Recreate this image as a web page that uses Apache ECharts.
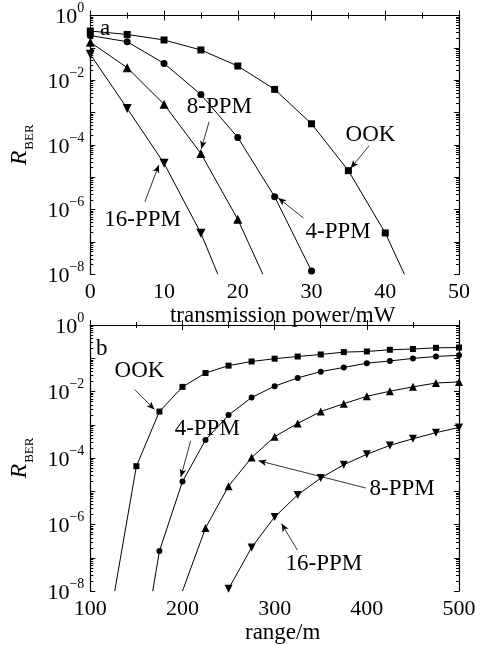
<!DOCTYPE html>
<html>
<head>
<meta charset="utf-8">
<script src="https://cdn.jsdelivr.net/npm/echarts@6/dist/echarts.min.js"></script>
<style>
  html, body { margin: 0; padding: 0; background: #fff; }
  #chart { width: 484px; height: 645px; }
</style>
</head>
<body>
<div id="chart"></div>
<script>
// (a) BER vs transmission power
var powerMw = [0, 5, 10, 15, 20, 25, 30, 35, 40]
var ookPower = [0.33, 0.26, 0.175, 0.086, 0.0275, 5.2e-3, 4.5e-4, 1.6e-5, 1.9e-7]
var ppm4Power = [0.24, 0.155, 0.033, 3.6e-3, 1.7e-4, 2.5e-6, 1.26e-8]
var ppm8Power = [0.149, 0.0244, 1.8e-3, 5.4e-5, 5e-7]
var ppm16Power = [0.063, 1.34e-3, 2.7e-5, 1.85e-7]
// where the curves leave the plot at the bottom
var ookPowerEnd = [42.6, 1e-8]
var ppm8PowerEnd = [23.4, 1e-8]
var ppm16PowerEnd = [17.3, 1e-8]

// (b) BER vs range
var rangeM = [150, 175, 200, 225, 250, 275, 300, 325, 350, 375, 400, 425, 450, 475, 500]
var ookRange = [5.7e-5, 2.5e-3, 0.0138, 0.036, 0.06, 0.08, 0.097, 0.113, 0.13, 0.153, 0.16, 0.18, 0.19, 0.206, 0.21]
var ppm4Range = [1.6e-7, 1.96e-5, 3.5e-4, 1.96e-3, 6.6e-3, 0.0145, 0.0257, 0.0396, 0.053, 0.071, 0.083, 0.099, 0.113, 0.123]
var ppm8Range = [7.9e-7, 1.43e-5, 1.03e-4, 4.4e-4, 1.1e-3, 2.5e-3, 4.3e-3, 7.2e-3, 0.0102, 0.0138, 0.018, 0.0195]
var ppm16Range = [1.17e-8, 2.05e-7, 1.7e-6, 7.8e-6, 2.5e-5, 6.3e-5, 1.3e-4, 2.4e-4, 3.8e-4, 5.8e-4, 8.3e-4]
// where the curves enter the plot from the bottom
var ookRangeStart = [126.5, 1e-8]
var ppm4RangeStart = [167.7, 1e-8]
var ppm8RangeStart = [200, 1e-8]

var FONT = 'Liberation Serif'

// annotations: text position, arrow tail, arrow head (data coords)
var notesA = [
  { text: '8-PPM', at: [17.5, -2.83], from: [16.1, -3.29], to: [15.05, -4.12] },
  { text: 'OOK', at: [38.0, -3.69], from: [37.8, -4.03], to: [35.3, -4.72] },
  { text: '16-PPM', at: [7.1, -6.32], from: [7.4, -5.76], to: [9.3, -4.62] },
  { text: '4-PPM', at: [33.6, -6.68], from: [28.9, -6.26], to: [25.5, -5.64] }
]
var notesB = [
  { text: 'OOK', at: [153.4, -1.39], from: [148.1, -1.94], to: [169.6, -2.54] },
  { text: '4-PPM', at: [226.9, -3.13], from: [208.9, -3.48], to: [198.2, -4.57] },
  { text: '8-PPM', at: [438.4, -4.93], from: [398.9, -4.9], to: [282.5, -4.08] },
  { text: '16-PPM', at: [353.4, -7.19], from: [324.7, -6.77], to: [307.5, -5.97] }
]

// log minor ticks 2..9 x 10^k
var minorLog = []
for (var k = -8; k < 0; k++) {
  for (var m = 2; m <= 9; m++) minorLog.push(k + Math.log10(m))
}

function pairs(xs, ys) {
  return xs.slice(0, ys.length).map(function(x, i) { return [x, ys[i]] })
}
function bare(p) {
  return { value: p, symbol: 'none' }
}

function yLabel(v) {
  var e = Math.round(Math.log10(v))
  if (e % 2 !== 0) return ''
  return '{b|10}{s|' + (e === 0 ? '0' : '\u2212' + (-e)) + '}'
}

function xAxes(g, min, max, step, name, gap) {
  return [{
    type: 'value', gridIndex: g, min: min, max: max, interval: step,
    name: name, nameLocation: 'middle', nameGap: gap,
    nameTextStyle: { fontFamily: FONT, fontSize: 23, color: '#000', padding: [0, 0, 0, 16] },
    axisLine: { lineStyle: { color: '#000', width: 1.2 } },
    axisTick: { inside: true, length: 5, lineStyle: { color: '#000' } },
    minorTick: { show: true, splitNumber: 2, length: 3, lineStyle: { color: '#000' } },
    axisLabel: { fontFamily: FONT, fontSize: 22, color: '#000', margin: 7 },
    splitLine: { show: false }
  }, {
    type: 'value', gridIndex: g, min: min, max: max, interval: step, position: 'top',
    axisLine: { lineStyle: { color: '#000', width: 1.2 } },
    axisTick: { inside: true, length: 5, lineStyle: { color: '#000' } },
    minorTick: { show: true, splitNumber: 2, length: 3, lineStyle: { color: '#000' } },
    axisLabel: { show: false },
    splitLine: { show: false }
  }]
}

function yAxes(g) {
  var side = ['left', 'right']
  var out = []
  side.forEach(function(pos) {
    out.push({
      type: 'log', logBase: 10, gridIndex: g, min: 1e-8, max: 1, position: pos,
      name: pos === 'left' ? '{r|R}{s|BER}' : '',
      nameLocation: 'middle', nameGap: 50,
      nameTextStyle: {
        rich: {
          r: { fontFamily: FONT, fontSize: 24, fontStyle: 'italic', color: '#000' },
          s: { fontFamily: FONT, fontSize: 13, color: '#000', padding: [20, 0, 0, 1] }
        }
      },
      axisLine: { lineStyle: { color: '#000', width: 1.2 } },
      axisTick: { inside: true, length: 5, lineStyle: { color: '#000' } },
      axisLabel: {
        show: pos === 'left', margin: 6, formatter: yLabel,
        rich: {
          b: { fontFamily: FONT, fontSize: 22, color: '#000', padding: [4, 0, 0, 0] },
          s: { fontFamily: FONT, fontSize: 14, color: '#000', padding: [0, 0, 14, 0] }
        }
      },
      splitLine: { show: false }
    })
    out.push({
      type: 'value', gridIndex: g, min: -8, max: 0, position: pos,
      axisLine: { show: false },
      axisTick: { inside: true, length: 3, customValues: minorLog, lineStyle: { color: '#000' } },
      axisLabel: { show: false },
      splitLine: { show: false }
    })
  })
  return out
}

function curve(name, data, xi, yi, symbol, size, rotate, notes) {
  var s = {
    name: name, type: 'line', xAxisIndex: xi, yAxisIndex: yi, data: data,
    symbol: symbol, symbolSize: size, symbolRotate: rotate || 0,
    lineStyle: { color: '#000', width: 1 },
    itemStyle: { color: '#000' },
    emphasis: { disabled: true },
    animation: false
  }
  return s
}

function noteSeries(notes, xi, yi) {
  return {
    type: 'line', xAxisIndex: xi, yAxisIndex: yi, data: [], animation: false, silent: true,
    markLine: {
      silent: true, animation: false, symbol: ['none', 'arrow'], symbolSize: [5, 8],
      label: { show: false },
      lineStyle: { color: '#000', width: 0.8, type: 'solid' },
      data: notes.map(function(n) {
        return [{ coord: [n.from[0], Math.pow(10, n.from[1])] }, { coord: [n.to[0], Math.pow(10, n.to[1])] }]
      })
    },
    markPoint: {
      silent: true, animation: false, symbol: 'rect', symbolSize: 1,
      itemStyle: { color: 'rgba(0,0,0,0)' },
      label: { show: true, position: 'inside', fontFamily: FONT, fontSize: 23, color: '#000',
        formatter: function(p) { return p.name } },
      data: notes.map(function(n) {
        return { name: n.text, coord: [n.at[0], Math.pow(10, n.at[1])] }
      })
    }
  }
}

var chart = echarts.init(document.getElementById('chart'))
var option = {
  backgroundColor: '#fff',
  grid: [
    { left: 87, right: 25, top: 15.5, height: 258.8 },
    { left: 87, right: 25, top: 325, height: 268 }
  ],
  xAxis: xAxes(0, 0, 50, 10, 'transmission power/mW', 22).concat(xAxes(1, 100, 500, 100, 'range/m', 19)),
  yAxis: yAxes(0).concat(yAxes(1)),
  series: [
    curve('OOK', pairs(powerMw, ookPower).concat([bare(ookPowerEnd)]), 0, 0, 'rect', 7),
    curve('4-PPM', pairs(powerMw, ppm4Power), 0, 0, 'circle', 7),
    curve('8-PPM', pairs(powerMw, ppm8Power).concat([bare(ppm8PowerEnd)]), 0, 0, 'triangle', 9),
    curve('16-PPM', pairs(powerMw, ppm16Power).concat([bare(ppm16PowerEnd)]), 0, 0, 'triangle', 9, 180),
    noteSeries(notesA, 0, 0),
    curve('OOK', [bare(ookRangeStart)].concat(pairs(rangeM, ookRange)), 2, 4, 'rect', 6),
    curve('4-PPM', [bare(ppm4RangeStart)].concat(pairs(rangeM.slice(1), ppm4Range)), 2, 4, 'circle', 6),
    curve('8-PPM', [bare(ppm8RangeStart)].concat(pairs(rangeM.slice(3), ppm8Range)), 2, 4, 'triangle', 8),
    curve('16-PPM', pairs(rangeM.slice(4), ppm16Range), 2, 4, 'triangle', 8, 180),
    noteSeries(notesB, 2, 4)
  ],
  graphic: [
    { type: 'text', left: 100, top: 17, style: { text: 'a', font: '23px "Liberation Serif"', fill: '#000', backgroundColor: '#fff' } },
    { type: 'text', left: 96, top: 337, style: { text: 'b', font: '23px "Liberation Serif"', fill: '#000' } }
  ]
}
chart.setOption(option)
</script>
</body>
</html>
